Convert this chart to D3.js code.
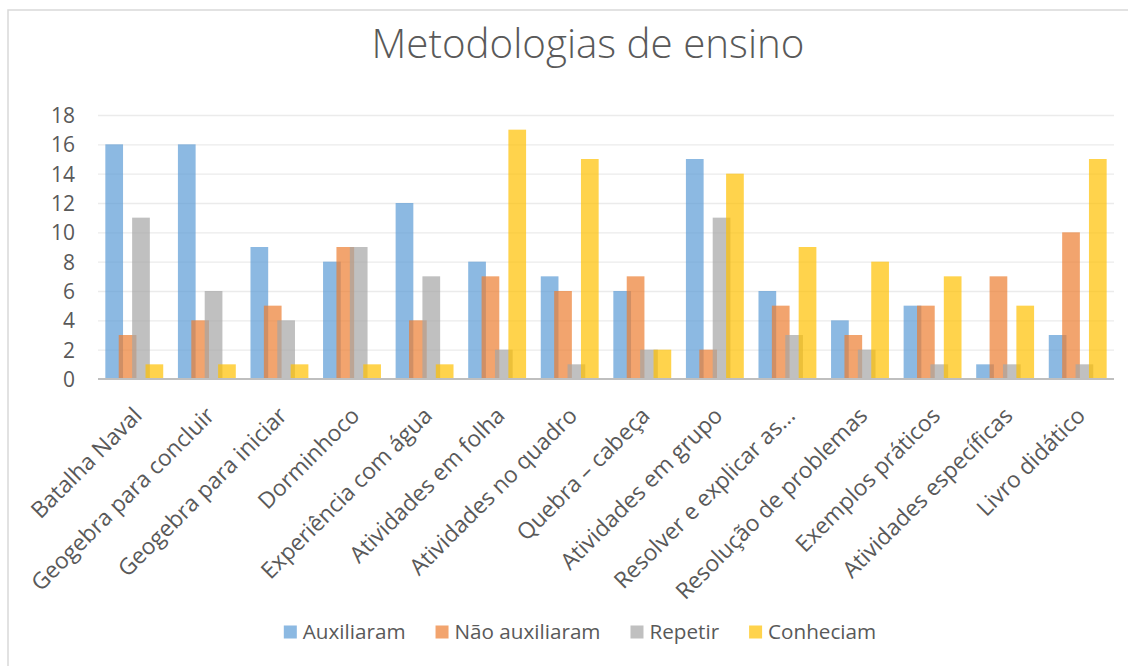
<!DOCTYPE html>
<html>
<head>
<meta charset="utf-8">
<script src="https://cdn.jsdelivr.net/npm/d3@7"></script>
<style>
  html, body { margin: 0; padding: 0; background: #ffffff; }
  svg { display: block; }
  text { font-family: "Open Sans", "Noto Sans", sans-serif; fill: #595959; }
</style>
</head>
<body>
<svg id="chart" width="1128" height="666"></svg>
<script>
const categories = [
  "Batalha Naval", "Geogebra para concluir", "Geogebra para iniciar", "Dorminhoco",
  "Experiência com água", "Atividades em folha", "Atividades no quadro", "Quebra – cabeça",
  "Atividades em grupo", "Resolver e explicar as...", "Resolução de problemas",
  "Exemplos práticos", "Atividades específicas", "Livro didático"
];
const seriesNames = ["Auxiliaram", "Não auxiliaram", "Repetir", "Conheciam"];
const auxiliaram    = [16, 16, 9, 8, 12, 8, 7, 6, 15, 6, 4, 5, 1, 3];
const naoAuxiliaram = [3, 4, 5, 9, 4, 7, 6, 7, 2, 5, 3, 5, 7, 10];
const repetir       = [11, 6, 4, 9, 7, 2, 1, 2, 11, 3, 2, 1, 1, 1];
const conheciam     = [1, 1, 1, 1, 1, 17, 15, 2, 14, 9, 8, 7, 5, 15];
const yTicks = [0, 2, 4, 6, 8, 10, 12, 14, 16, 18];
const seriesColors = ["#5B9BD5", "#ED7D31", "#A5A5A5", "#FFC000"];
const titleText = "Metodologias de ensino";

const seriesValues = [auxiliaram, naoAuxiliaram, repetir, conheciam];

const svg = d3.select("#chart");
const W = 1128, H = 666;
const plot = { left: 98, right: 1114, top: 115, bottom: 379 };

// chart border (only top/left visible in reference)
svg.append("rect").attr("x", 8).attr("y", 10).attr("width", W + 20).attr("height", H + 20)
  .attr("fill", "none").attr("stroke", "#D9D9D9").attr("stroke-width", 1.5);

// helper to fit font-size to a target width
function fitSize(str, target, weight) {
  const t = svg.append("text").attr("font-size", 100).attr("font-weight", weight || 400).text(str);
  const w = t.node().getComputedTextLength();
  t.remove();
  return 100 * target / w;
}

// Title
const titleSize = fitSize(titleText, 433, 300);
svg.append("text").attr("x", 588).attr("y", 58).attr("text-anchor", "middle")
  .attr("font-size", titleSize).attr("font-weight", 300).text(titleText);

// Scales
const x = d3.scaleBand().domain(categories).range([plot.left, plot.right]).paddingInner(0).paddingOuter(0);
const y = d3.scaleLinear().domain([0, 18]).range([plot.bottom, plot.top]);
const band = x.bandwidth();
const barW = band * 0.244;
const step = band * 0.1846;
const groupW = 3 * step + barW;
const sx = d3.scaleLinear().domain([0, 3]).range([(band - groupW) / 2, (band - groupW) / 2 + 3 * step]);

// Gridlines
const grid = svg.append("g").attr("transform", `translate(${plot.left},0)`)
  .call(d3.axisLeft(y).tickValues(yTicks.filter(v => v > 0)).tickSize(-(plot.right - plot.left)).tickFormat(""));
grid.select(".domain").remove();
grid.selectAll("line").attr("stroke", "#EBEBEB").attr("stroke-width", 1.3);

// Bars
seriesValues.forEach((vals, si) => {
  svg.append("g").selectAll("rect").data(categories).join("rect")
    .attr("x", (c) => x(c) + sx(si))
    .attr("y", (c, i) => y(vals[i]))
    .attr("width", barW)
    .attr("height", (c, i) => y(0) - y(vals[i]))
    .attr("fill", seriesColors[si])
    .attr("fill-opacity", 0.7);
});

// Baseline axis
svg.append("line").attr("x1", plot.left).attr("x2", plot.right)
  .attr("y1", y(0)).attr("y2", y(0)).attr("stroke", "#BFBFBF").attr("stroke-width", 2);

// Y axis labels
const tickSize = fitSize("18", 24);
const yAx = svg.append("g").attr("transform", `translate(${75},0)`)
  .call(d3.axisLeft(y).tickValues(yTicks).tickSize(0).tickPadding(0));
yAx.select(".domain").remove();
yAx.selectAll("text").attr("font-size", tickSize).attr("fill", "#595959")
  .attr("font-family", '"Open Sans", sans-serif').attr("dy", "0.35em");

// X axis labels
const catSize = fitSize("Geogebra para concluir", 248);
const xAx = svg.append("g").attr("transform", `translate(0,${plot.bottom})`)
  .call(d3.axisBottom(x).tickSize(0));
xAx.select(".domain").remove();
xAx.selectAll("text")
  .attr("font-size", catSize).attr("fill", "#595959")
  .attr("font-family", '"Open Sans", sans-serif')
  .attr("text-anchor", "end")
  .attr("x", 0).attr("y", 0).attr("dy", 0)
  .attr("transform", "translate(9,38) rotate(-45)");

// Legend
const legSize = fitSize("Não auxiliaram", 146);
const legend = svg.append("g");
let lx = 0;
seriesNames.forEach((name, i) => {
  const g = legend.append("g").attr("transform", `translate(${lx},0)`);
  g.append("rect").attr("x", 0).attr("y", -6.5).attr("width", 13).attr("height", 13)
    .attr("fill", seriesColors[i]).attr("fill-opacity", 0.7);
  const t = g.append("text").attr("x", 19).attr("y", 0).attr("dy", "0.35em")
    .attr("font-size", legSize).text(name);
  lx += 19 + t.node().getComputedTextLength() + 30;
});
const totalW = lx - 30;
legend.attr("transform", `translate(${580 - totalW / 2},632)`);
</script>
</body>
</html>
